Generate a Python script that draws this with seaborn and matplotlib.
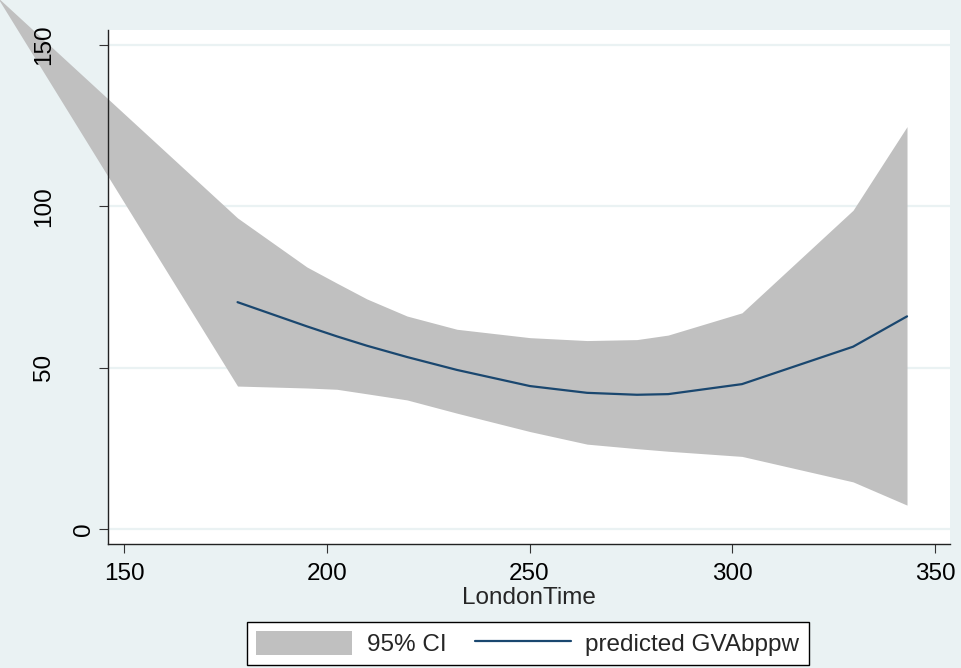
import matplotlib
matplotlib.use("Agg")
import matplotlib.pyplot as plt
import matplotlib.transforms as mtransforms
import seaborn as sns
from matplotlib.patches import Patch
from matplotlib.lines import Line2D

# values (LondonTime vs GVAbppw fit)
ci_x = [118.7, 178.0, 195.1, 202.5, 209.9, 219.8, 232.1, 250.1, 264.2, 276.5, 284.2, 302.4, 329.8, 343.1]
ci_hi = [164.9, 96.4, 81.2, 76.2, 71.3, 66.0, 61.9, 59.3, 58.4, 58.7, 60.1, 67.0, 98.8, 124.7]
ci_lo = [164.9, 44.3, 43.7, 43.3, 41.9, 40.0, 35.9, 30.2, 26.3, 24.9, 24.1, 22.5, 14.6, 7.4]

pred_x = [178.0, 195.1, 202.5, 209.9, 219.8, 232.1, 250.1, 264.2, 276.5, 284.2, 302.4, 329.8, 343.1]
pred_y = [70.3, 62.8, 59.7, 56.8, 53.3, 49.3, 44.3, 42.2, 41.6, 41.8, 44.9, 56.5, 65.9]

x_ticks = [150, 200, 250, 300, 350]
y_ticks = [0, 50, 100, 150]

bg = '#EAF2F3'
band_col = '#C0C0C0'
line_col = '#1A476F'

sns.set_style("ticks")
plt.rcParams['font.family'] = ['Liberation Sans', 'DejaVu Sans']
fs = 17.5

fig = plt.figure(figsize=(9.61, 6.68), dpi=100, facecolor=bg)
ax = fig.add_axes([108/961, 1-544/668, (950-108)/961, (544-30)/668])
ax.set_facecolor('white')

for v in y_ticks:
    ax.axhline(v, color=bg, lw=1.6, zorder=0.5)

ax.fill_between(ci_x, ci_lo, ci_hi, color=band_col, lw=0, clip_on=False, zorder=1)
sns.lineplot(x=pred_x, y=pred_y, ax=ax, color=line_col, linewidth=1.6, zorder=3)

ax.set_xlim(146.05, 353.7)
ax.set_ylim(-4.65, 154.65)
ax.set_xticks(x_ticks)
ax.set_yticks(y_ticks)

for s in ['top', 'right']:
    ax.spines[s].set_visible(False)
for s in ['left', 'bottom']:
    ax.spines[s].set_color('#222222')
    ax.spines[s].set_linewidth(1.0)

ax.tick_params(axis='both', length=6.5, width=0.8, color='#333333', labelsize=fs, labelcolor='black')
ax.tick_params(axis='x', pad=7)
ax.tick_params(axis='y', labelleft=False)

# rotated y labels, placed the way the Stata graph has them
# (the "0" sits nearer the axis than the longer labels)
for v in y_ticks:
    dx = -13 if v == 0 else -53
    tr = ax.get_yaxis_transform() + mtransforms.ScaledTranslation(dx/100, 0, fig.dpi_scale_trans)
    ax.text(0, v, str(v), transform=tr, rotation=90, ha='right', va='center',
            fontsize=fs, color='black', clip_on=False, zorder=5)

ax.set_xlabel('LondonTime', fontsize=fs, labelpad=1.5)
ax.set_ylabel('')

handles = [Patch(facecolor=band_col, edgecolor='none', label='95% CI'),
           Line2D([0], [0], color=line_col, lw=1.6, label='predicted GVAbppw')]
leg = fig.legend(handles=handles, loc='upper center', ncol=2,
                 bbox_to_anchor=(527.7/961, 1-622/668), borderaxespad=0,
                 fontsize=fs, frameon=True, fancybox=False, framealpha=1,
                 edgecolor='black', borderpad=0.38, handlelength=3.95,
                 handleheight=1.1, handletextpad=0.6, columnspacing=1.18)
leg.get_frame().set_linewidth(1.0)

fig.savefig('out.png', dpi=100, facecolor=bg)
